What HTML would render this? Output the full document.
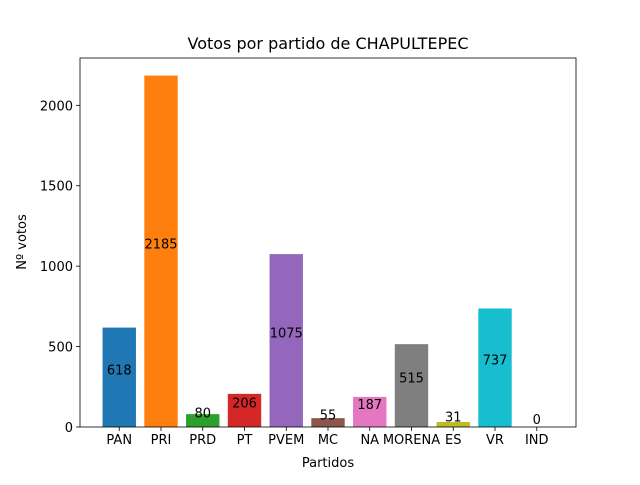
<!DOCTYPE html>
<html><head><meta charset="utf-8"><style>
body{margin:0;background:#fff}
svg{font-family:"DejaVu Sans","Liberation Sans",sans-serif}
</style></head><body>
<svg id="chart" width="640" height="480" xmlns="http://www.w3.org/2000/svg">
<rect width="640" height="480" fill="#fff"/>
<text x="328" y="49" font-size="16" text-anchor="middle">Votos por partido de CHAPULTEPEC</text>
<g id="bars"></g>
<g id="axes"></g>
<text x="328" y="467" font-size="13" text-anchor="middle">Partidos</text>
<text transform="translate(26,242) rotate(-90)" font-size="13" text-anchor="middle">Nº votos</text>
</svg>
<script>
const categories=["PAN","PRI","PRD","PT","PVEM","MC","NA","MORENA","ES","VR","IND"];
const votes=[618,2185,80,206,1075,55,187,515,31,737,0];
const colors=["#1f77b4","#ff7f0e","#2ca02c","#d62728","#9467bd","#8c564b","#e377c2","#7f7f7f","#bcbd22","#17becf","#1f77b4"];
const yTicks=[0,500,1000,1500,2000];
const L=80,R=576,T=58,B=427;
const ymax=Math.max(...votes)*1.05;
const x0=-0.94,x1=categories.length-1+0.94;
const xs=v=>L+(v-x0)/(x1-x0)*(R-L);
const ys=v=>B-v/ymax*(B-T);
const NS="http://www.w3.org/2000/svg";
const bars=document.getElementById('bars'),axes=document.getElementById('axes');
function mk(tag,attrs,parent){const e=document.createElementNS(NS,tag);for(const k in attrs)e.setAttribute(k,attrs[k]);parent.appendChild(e);return e;}
const bw=(xs(0.8)-xs(0));
categories.forEach((c,i)=>{
  const r=mk('rect',{x:xs(i)-bw/2,y:ys(votes[i]),width:bw,height:B-ys(votes[i]),fill:colors[i]},bars);
  
  
  const t=mk('text',{x:xs(i),y:ys(votes[i]/2)-3,'font-size':13,'text-anchor':'middle'},bars);
  t.textContent=votes[i];
  
  
  mk('line',{x1:xs(i),x2:xs(i),y1:B,y2:B+4,stroke:'#000','stroke-width':0.8},axes);
  const xl=mk('text',{x:xs(i),y:B+17,'font-size':13,'text-anchor':'middle'},axes);
  xl.textContent=c;
  
  
});
yTicks.forEach(v=>{
  mk('line',{x1:L-4,x2:L,y1:ys(v),y2:ys(v),stroke:'#000','stroke-width':0.8},axes);
  const yl=mk('text',{x:L-7,y:ys(v)+5,'font-size':13,'text-anchor':'end'},axes);
  yl.textContent=v;
  
  
});
const f=mk('rect',{x:L,y:T,width:R-L,height:B-T,fill:'none',stroke:'#000','stroke-width':0.8},axes);


</script>
</body></html>
